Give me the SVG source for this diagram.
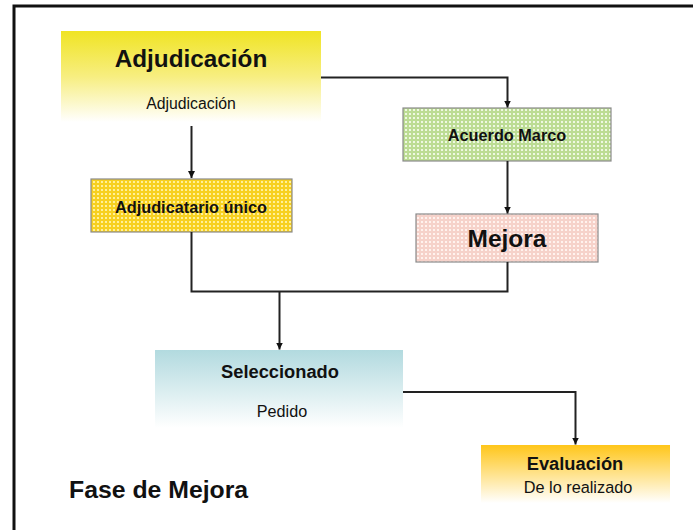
<svg xmlns="http://www.w3.org/2000/svg" width="693" height="530" viewBox="0 0 693 530">
<style>
.t{font-family:"Liberation Sans",Arial,sans-serif;fill:#111;text-anchor:middle}
.b{font-weight:bold}
.box{stroke:#8a8a8a;stroke-width:1.2}
.con{fill:none;stroke:#222;stroke-width:2}
</style>
<defs>
<linearGradient id="gY" x1="0" y1="0" x2="0" y2="1">
<stop offset="0" stop-color="#f0e424"/><stop offset="0.5" stop-color="#f7ee80"/><stop offset="1" stop-color="#ffffff"/>
</linearGradient>
<linearGradient id="gT" x1="0" y1="0" x2="0" y2="1">
<stop offset="0" stop-color="#b2dadf"/><stop offset="1" stop-color="#ffffff"/>
</linearGradient>
<linearGradient id="gO" x1="0" y1="0" x2="0" y2="1">
<stop offset="0" stop-color="#ffc61a"/><stop offset="1" stop-color="#ffffff"/>
</linearGradient>
<pattern id="pY" width="4" height="4" patternUnits="userSpaceOnUse">
<rect width="4" height="4" fill="#f7d020"/><rect x="1" y="1" width="2" height="2" fill="#fff09a"/>
</pattern>
<pattern id="pG" width="4" height="4" patternUnits="userSpaceOnUse">
<rect width="4" height="4" fill="#bcdc94"/><rect x="1" y="1" width="2" height="2" fill="#eef8e2"/>
</pattern>
<pattern id="pP" width="4" height="4" patternUnits="userSpaceOnUse">
<rect width="4" height="4" fill="#f6d2ca"/><rect x="1" y="1" width="2" height="2" fill="#fff2ee"/>
</pattern>
<marker id="ar" viewBox="0 0 10 10" refX="10" refY="5" markerWidth="7" markerHeight="7" markerUnits="userSpaceOnUse" orient="auto">
<path d="M0,0 L10,5 L0,10 z" fill="#111"/>
</marker>
</defs>
<rect x="0" y="0" width="693" height="530" fill="#ffffff"/>
<rect x="14" y="6" width="700" height="550" fill="none" stroke="#111" stroke-width="3"/>

<g id="n-adjudicacion">
<rect x="61" y="31" width="260" height="91" fill="url(#gY)"/>
<text class="t b" x="191" y="67" font-size="24.3">Adjudicación</text>
<text class="t" x="191" y="109" font-size="15.8">Adjudicación</text>
</g>
<g id="n-adjudicatario">
<rect class="box" x="91" y="179" width="201" height="53" fill="url(#pY)"/>
<text class="t b" x="191" y="213" font-size="16.3">Adjudicatario único</text>
</g>
<g id="n-acuerdo">
<rect class="box" x="403" y="108" width="208" height="53" fill="url(#pG)"/>
<text class="t b" x="507" y="141" font-size="16.3">Acuerdo Marco</text>
</g>
<g id="n-mejora">
<rect class="box" x="416" y="214" width="182" height="48" fill="url(#pP)"/>
<text class="t b" x="507" y="247" font-size="24.5">Mejora</text>
</g>
<g id="n-seleccionado">
<rect x="155" y="350" width="248" height="78" fill="url(#gT)"/>
<text class="t b" x="280" y="378" font-size="18.3">Seleccionado</text>
<text class="t" x="282" y="417" font-size="16.2">Pedido</text>
</g>
<g id="n-evaluacion">
<rect x="481" y="445" width="189" height="58" fill="url(#gO)"/>
<text class="t b" x="575" y="470" font-size="18.3">Evaluación</text>
<text class="t" x="578" y="493" font-size="16.3">De lo realizado</text>
</g>
<g id="n-fase">
<text class="t b" x="69" y="498" font-size="24.8" style="text-anchor:start">Fase de Mejora</text>
</g>

<g id="connectors">
<path class="con" d="M191.5,126 V178" marker-end="url(#ar)"/>
<path class="con" d="M321,77.5 H507.5 V107.5" marker-end="url(#ar)"/>
<path class="con" d="M507.5,161 V213.5" marker-end="url(#ar)"/>
<path class="con" d="M191.5,232 V291.5 H507.5 V262"/>
<path class="con" d="M279.5,291.5 V349.5" marker-end="url(#ar)"/>
<path class="con" d="M403,392 H575.5 V444.5" marker-end="url(#ar)"/>
</g>
</svg>
